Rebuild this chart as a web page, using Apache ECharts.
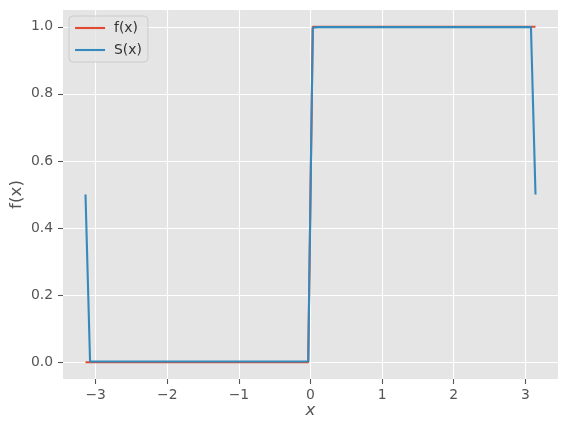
<!DOCTYPE html>
<html>
<head>
<meta charset="utf-8">
<script src="https://cdn.jsdelivr.net/npm/echarts@6/dist/echarts.min.js"></script>
<style>html,body{margin:0;padding:0;background:#fff}#c{width:568px;height:433px}</style>
</head>
<body>
<div id="c"></div>
<script>
// sample positions (x) shared by both curves
const xs = [-3.1416, -3.0781, -2.8242, -2.5069, -2.1895, -1.8722, -1.5549, -1.2375, -0.9202, -0.6029, -0.2856, -0.0952, -0.0317,
            0.0317, 0.0952, 0.2856, 0.6029, 0.9202, 1.2375, 1.5549, 1.8722, 2.1895, 2.5069, 2.8242, 3.0781, 3.1416];
// f(x): step function
const fVals = [0, 0, 0, 0, 0, 0, 0, 0, 0, 0, 0, 0, 0,
               1, 1, 1, 1, 1, 1, 1, 1, 1, 1, 1, 1, 1];
// S(x): Fourier series approximation
const sVals = [0.5, 0.002, 0.002, 0.002, 0.002, 0.002, 0.002, 0.002, 0.002, 0.002, 0.002, 0.002, 0.003,
               0.997, 0.999, 0.999, 0.999, 0.999, 0.999, 0.999, 0.999, 0.999, 0.999, 0.999, 0.999, 0.5];
const xTicks = [-3, -2, -1, 0, 1, 2, 3];
const yTicks = [0.0, 0.2, 0.4, 0.6, 0.8, 1.0];

const fData = xs.map((x, i) => [x, fVals[i]]);
const sData = xs.map((x, i) => [x, sVals[i]]);

const font = 'DejaVu Sans';
const chart = echarts.init(document.getElementById('c'), null, {renderer: 'canvas'});
chart.setOption({
  animation: false,
  backgroundColor: '#ffffff',
  textStyle: {fontFamily: font},
  grid: {left: 63, right: 10, top: 10, bottom: 54, show: true, backgroundColor: '#E5E5E5', borderWidth: 0,
         containLabel: false, outerBoundsMode: 'none'},
  legend: {
    left: 69, top: 16, orient: 'vertical',
    padding: [5, 6, 5, 5], itemGap: 8, itemWidth: 30, itemHeight: 14,
    backgroundColor: 'rgba(229,229,229,0.8)', borderColor: '#cccccc', borderWidth: 1, borderRadius: 4,
    itemStyle: {opacity: 0},
    lineStyle: {width: 2.1},
    textStyle: {fontFamily: font, fontSize: 13.9, color: '#333333', padding: [0, 0, 0, 4]},
    data: ['f(x)', 'S(x)']
  },
  xAxis: {
    type: 'value', min: -3.4558, max: 3.4558,
    name: 'x', nameLocation: 'middle', nameGap: 23, nameMoveOverlap: false,
    nameTextStyle: {fontFamily: font, fontSize: 16.7, fontStyle: 'italic', color: '#555555'},
    axisLine: {show: false, onZero: false},
    axisTick: {show: true, customValues: xTicks, length: 5, lineStyle: {color: '#555555', width: 1.1}},
    axisLabel: {customValues: xTicks, margin: 9, fontFamily: font, fontSize: 13.9, color: '#555555',
      formatter: v => String(v).replace('-', '\u2212')},
    splitLine: {show: true, lineStyle: {color: '#ffffff', width: 1.1}}
  },
  yAxis: {
    type: 'value', min: -0.05, max: 1.05,
    name: 'f(x)', nameLocation: 'middle', nameGap: 38, nameMoveOverlap: false,
    nameTextStyle: {fontFamily: font, fontSize: 16.7, color: '#555555'},
    axisLine: {show: false, onZero: false},
    axisTick: {show: true, customValues: yTicks, length: 5, lineStyle: {color: '#555555', width: 1.1}},
    axisLabel: {customValues: yTicks, margin: 10, fontFamily: font, fontSize: 13.9, color: '#555555',
      formatter: v => v.toFixed(1)},
    splitLine: {show: true, lineStyle: {color: '#ffffff', width: 1.1}}
  },
  series: [
    {name: 'f(x)', type: 'line', data: fData, showSymbol: false, symbol: 'none',
     lineStyle: {color: '#E24A33', width: 2.1}, itemStyle: {color: '#E24A33'}},
    {name: 'S(x)', type: 'line', data: sData, showSymbol: false, symbol: 'none',
     lineStyle: {color: '#348ABD', width: 2.1}, itemStyle: {color: '#348ABD'}}
  ]
});
</script>
</body>
</html>
